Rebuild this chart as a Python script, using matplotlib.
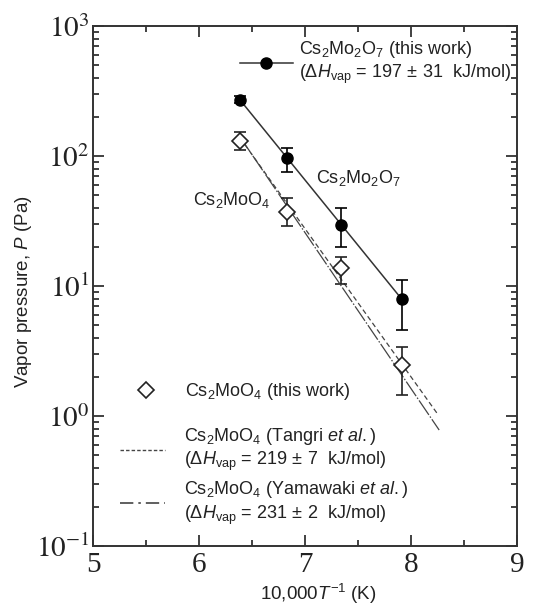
import numpy as np
import matplotlib
matplotlib.use('Agg')
import matplotlib.pyplot as plt
from matplotlib.lines import Line2D
from matplotlib.ticker import FixedLocator, FuncFormatter, NullFormatter

plt.rcParams['font.family'] = ['Liberation Sans', 'DejaVu Sans']
plt.rcParams['mathtext.fontset'] = 'custom'
plt.rcParams['mathtext.rm'] = 'Liberation Sans'
plt.rcParams['mathtext.it'] = 'Liberation Sans:italic'
plt.rcParams['mathtext.bf'] = 'Liberation Sans:bold'

# ---------------- data ----------------
inv_T = [6.385, 6.83, 7.337, 7.913]          # 10,000/T (K^-1)
p_mo2o7 = [270, 96, 29.4, 7.9]               # Cs2Mo2O7 (this work), Pa
p_mo2o7_lo = [255, 75.5, 20.0, 4.6]
p_mo2o7_hi = [290, 114.6, 39.5, 11.1]
p_moo4 = [131, 37, 13.7, 2.45]               # Cs2MoO4 (this work), Pa
p_moo4_lo = [111, 29, 10.4, 1.45]
p_moo4_hi = [153, 47.2, 16.7, 3.4]

fit_mo2o7_x = [6.385, 7.913]
fit_mo2o7_p = [270, 7.9]
tangri_x = [6.385, 8.245]
tangri_p = [138, 1.05]
yama_x = [6.385, 8.265]
yama_p = [140, 0.78]

x_ticks = [5, 6, 7, 8, 9]
y_exps = [-1, 0, 1, 2, 3]

lab_mo2o7 = ("Cs$_2$Mo$_2$O$_7$ (this work)\n"
             "($\\Delta\\mathit{H}_\\mathrm{vap}$ = 197$\\,\\pm\\,$31  kJ/mol)")
lab_moo4 = r"Cs$_2$MoO$_4$ (this work)"
lab_tangri = ("Cs$_2$MoO$_4$ (Tangri $\\mathit{et\\ al.}$)\n"
              "($\\Delta\\mathit{H}_\\mathrm{vap}$ = 219$\\,\\pm\\,$7  kJ/mol)")
lab_yama = ("Cs$_2$MoO$_4$ (Yamawaki $\\mathit{et\\ al.}$)\n"
            "($\\Delta\\mathit{H}_\\mathrm{vap}$ = 231$\\,\\pm\\,$2  kJ/mol)")

# ---------------- figure ----------------
fig = plt.figure(figsize=(5.33, 6.11), dpi=100)
ax = fig.add_axes([0.1751, 0.1064, 0.7949, 0.851])
ax.set_yscale('log')
ax.set_xlim(5, 9)
ax.set_ylim(0.1, 1000)

dark = '#222222'
lc = '#333333'

def yerr(p, lo, hi):
    p = np.array(p); return [p - np.array(lo), np.array(hi) - p]

# fit / literature lines
ax.plot(fit_mo2o7_x, fit_mo2o7_p, color=lc, lw=1.1, zorder=2)
ax.plot(tangri_x, tangri_p, color='#444444', lw=0.9, dashes=(4, 2.5), zorder=2)
ax.plot(yama_x, yama_p, color='#444444', lw=0.9, dashes=(14, 1.5, 1.2, 1.5), zorder=2)

# data points
ax.errorbar(inv_T, p_mo2o7, yerr=yerr(p_mo2o7, p_mo2o7_lo, p_mo2o7_hi), fmt='o',
            color='black', ms=8, capsize=4, elinewidth=1.2, capthick=1.2, zorder=4)
ax.errorbar(inv_T, p_moo4, yerr=yerr(p_moo4, p_moo4_lo, p_moo4_hi), fmt='D',
            mfc='white', mec=dark, mew=1.2, color=dark, ms=8, capsize=4,
            elinewidth=1.2, capthick=1.2, zorder=4)

# in-plot labels
ax.text(7.105, 68, r"Cs$_2$Mo$_2$O$_7$", fontsize=13, color=dark, va='center', ha='left')
ax.text(5.94, 46, r"Cs$_2$MoO$_4$", fontsize=13, color=dark, va='center', ha='left')

# ticks
ax.xaxis.set_major_locator(FixedLocator(x_ticks))
ax.xaxis.set_minor_locator(FixedLocator([5.5, 6.5, 7.5, 8.5]))
ax.yaxis.set_major_locator(FixedLocator([10.0 ** e for e in y_exps]))
minors = [m * 10.0 ** e for e in y_exps[:-1] for m in range(2, 10)]
ax.yaxis.set_minor_locator(FixedLocator(minors))
ax.yaxis.set_minor_formatter(NullFormatter())
ax.yaxis.set_major_formatter(FuncFormatter(lambda v, pos: r"$10^{%d}$" % int(round(np.log10(v)))))
ax.xaxis.set_major_formatter(FuncFormatter(lambda v, pos: "%d" % v))
ax.tick_params(which='both', direction='in', top=True, right=True, color=lc, width=1.3)
ax.tick_params(which='major', length=8)
ax.tick_params(which='minor', length=4)
ax.tick_params(axis='x', which='major', pad=4, labelsize=21, labelcolor=dark)
ax.tick_params(axis='y', which='major', pad=3, labelsize=21, labelcolor=dark)
for lbl in ax.get_xticklabels() + ax.get_yticklabels():
    lbl.set_fontfamily('Liberation Serif')
    lbl.set_math_fontfamily('stix')
for s in ax.spines.values():
    s.set_linewidth(1.4)
    s.set_color(lc)

ax.set_xlabel(r"10,000$\mathit{T}^{-1}$ (K)", fontsize=13.5, color=dark)
ax.xaxis.set_label_coords(0.53, -0.07)
ax.set_ylabel(r"Vapor pressure, $\mathit{P}$ (Pa)", fontsize=13.5, color=dark)
ax.yaxis.set_label_coords(-0.14, 0.49)

# legends
h1 = Line2D([], [], color=lc, lw=1.1, marker='o', ms=8, mfc='black', mec='black')
leg1 = ax.legend([h1], [lab_mo2o7], loc='upper left',
                 bbox_to_anchor=(0.346, 0.975), frameon=False, fontsize=13,
                 handlelength=2.93, handletextpad=0.33,
                 borderpad=0, borderaxespad=0, labelcolor=dark)
ax.add_artist(leg1)

h2 = Line2D([], [], linestyle='none', marker='D', ms=8, mfc='white', mec=dark, mew=1.2)
leg2 = ax.legend([h2], [lab_moo4], loc='upper left', bbox_to_anchor=(0.077, 0.317),
                 frameon=False, fontsize=13, handlelength=2.2, handletextpad=1.07,
                 borderpad=0, borderaxespad=0, labelcolor=dark)
ax.add_artist(leg2)

h3 = Line2D([], [], color='#444444', lw=1.0, dashes=(2.5, 1.5))
h4 = Line2D([], [], color='#444444', lw=1.2, dashes=(8, 3, 1.5, 3))
leg3 = ax.legend([h3, h4], [lab_tangri, lab_yama], loc='upper left', bbox_to_anchor=(0.063, 0.231),
                 frameon=False, fontsize=13, handlelength=2.49, handletextpad=1.05,
                 labelspacing=0.35, borderpad=0, borderaxespad=0, labelcolor=dark)

fig.savefig('out.png', dpi=100)
